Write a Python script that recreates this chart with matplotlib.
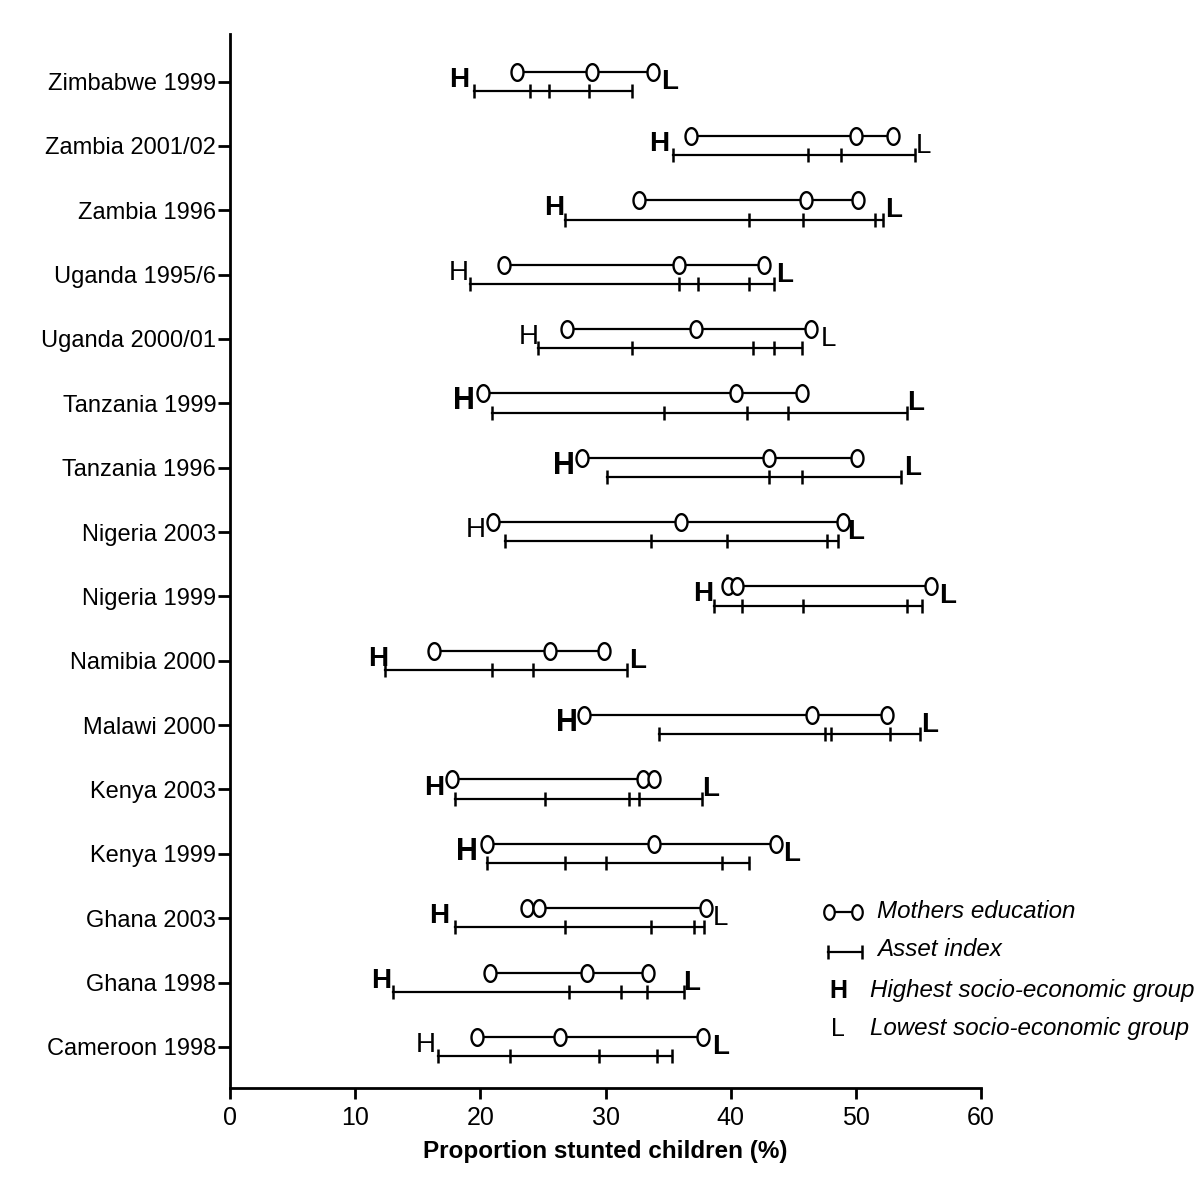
import matplotlib
matplotlib.use("Agg")
import numpy as np
import matplotlib.pyplot as plt
from matplotlib.path import Path

plt.rcParams['font.family'] = ['Liberation Sans', 'DejaVu Sans']

# Surveys, listed top to bottom as in the figure
surveys = ["Zimbabwe 1999", "Zambia 2001/02", "Zambia 1996", "Uganda 1995/6",
           "Uganda 2000/01", "Tanzania 1999", "Tanzania 1996", "Nigeria 2003",
           "Nigeria 1999", "Namibia 2000", "Malawi 2000", "Kenya 2003",
           "Kenya 1999", "Ghana 2003", "Ghana 1998", "Cameroon 1998"]

# Stunting (%) by mother's education group
mothers_edu = [
    [22.9, 28.9, 33.8],
    [36.8, 50.0, 53.0],
    [32.7, 46.0, 50.2],
    [21.9, 35.9, 42.7],
    [26.9, 37.2, 46.4],
    [20.2, 40.4, 45.7],
    [28.1, 43.1, 50.1],
    [21.0, 36.0, 49.0],
    [39.8, 40.5, 56.0],
    [16.3, 25.6, 29.9],
    [28.3, 46.5, 52.5],
    [17.7, 33.0, 33.9],
    [20.5, 33.9, 43.6],
    [23.7, 24.7, 38.0],
    [20.8, 28.5, 33.4],
    [19.7, 26.4, 37.8],
]

# Stunting (%) by asset index quintile
asset_index = [
    [19.5, 24.0, 25.5, 28.7, 32.1],
    [35.4, 46.2, 48.8, 54.7],
    [26.8, 41.5, 45.8, 51.5, 52.2],
    [19.2, 35.9, 37.4, 41.5, 43.5],
    [24.6, 32.1, 41.8, 43.5, 45.7],
    [20.9, 34.7, 41.3, 44.6, 54.1],
    [30.1, 43.1, 45.7, 53.6],
    [22.0, 33.6, 39.7, 47.7, 48.6],
    [38.7, 40.9, 45.8, 54.1, 55.3],
    [12.4, 20.9, 24.2, 31.7],
    [34.3, 47.5, 48.0, 52.7, 55.1],
    [18.0, 25.2, 31.9, 32.7, 37.7],
    [20.5, 26.8, 30.0, 39.3, 41.5],
    [18.0, 26.8, 33.6, 37.1, 37.9],
    [13.0, 27.1, 31.2, 33.3, 36.3],
    [16.6, 22.4, 29.5, 34.1, 35.3],
]

# where the H / L letters sit on the x axis, and whether they are bold
h_x = [18.3, 34.3, 25.9, 18.3, 23.9, 18.7, 26.7, 19.6, 37.8, 11.8, 26.9, 16.3, 18.9, 16.7, 12.1, 15.6]
l_x = [35.1, 55.4, 53.0, 44.3, 47.8, 54.8, 54.5, 50.0, 57.3, 32.6, 55.9, 38.4, 44.9, 39.2, 36.9, 39.2]
h_bold = [1, 1, 1, 0, 0, 1, 1, 0, 1, 1, 1, 1, 1, 1, 1, 0]
l_bold = [1, 0, 1, 1, 0, 1, 1, 1, 1, 1, 1, 1, 1, 0, 1, 1]
h_big = [0, 0, 0, 0, 0, 1, 1, 0, 0, 0, 1, 0, 1, 0, 0, 0]

# slightly tall open "circle" like the original figure
t = np.linspace(0, 2 * np.pi, 60)
oval = Path(np.column_stack([0.72 * np.cos(t), np.sin(t)]), closed=True)

fig = plt.figure(figsize=(12, 12), dpi=100)
ax = fig.add_axes([0.1917, 0.0933, 0.6258, 0.8784])

n = len(surveys)
for i, name in enumerate(surveys):
    y = n - 1 - i
    me = mothers_edu[i]
    ai = asset_index[i]
    # mothers education: line with open circles
    ax.plot(me, [y + 0.155] * len(me), color='black', lw=1.6, marker=oval,
            ms=12, mfc='white', mec='black', mew=1.7, zorder=3)
    # asset index: line with vertical ticks
    ax.plot([min(ai), max(ai)], [y - 0.145] * 2, color='black', lw=1.6, zorder=2)
    ax.plot(ai, [y - 0.145] * len(ai), ls='none', marker='|', ms=10, mew=1.8,
            color='black', zorder=2)
    ax.text(h_x[i], y + 0.03, "H", ha='center', va='center',
            fontsize=22 if h_big[i] else 20,
            fontweight='bold' if h_bold[i] else 'normal')
    ax.text(l_x[i], y, "L", ha='center', va='center', fontsize=20,
            fontweight='bold' if l_bold[i] else 'normal')

ax.set_xlim(0, 60)
ax.set_ylim(-0.64, n - 1 + 0.74)
ax.set_xticks(range(0, 61, 10))
ax.set_yticks(range(n))
ax.set_yticklabels(surveys[::-1])
ax.tick_params(axis='x', direction='out', length=8, width=2, labelsize=18, pad=5)
ax.tick_params(axis='y', direction='out', length=9, width=2, labelsize=17, pad=1)
for s in ['top', 'right']:
    ax.spines[s].set_visible(False)
for s in ['left', 'bottom']:
    ax.spines[s].set_linewidth(2)
ax.set_xlabel("Proportion stunted children (%)", fontsize=17.5, fontweight='bold', labelpad=7)

# legend drawn in figure pixel coordinates
lax = fig.add_axes([0, 0, 1, 1])
lax.set_xlim(0, 1200)
lax.set_ylim(1200, 0)
lax.axis('off')
lax.plot([829, 857], [912, 912], color='black', lw=1.6, marker=oval, ms=10.5,
         mfc='white', mec='black', mew=1.6)
lax.plot([828, 862], [952, 952], color='black', lw=1.6)
lax.plot([828, 862], [952, 952], ls='none', marker='|', ms=10, mew=1.8, color='black')
lax.text(838, 991, "H", ha='center', va='center', fontsize=18, fontweight='bold')
lax.text(838, 1029, "L", ha='center', va='center', fontsize=18)
legend_labels = ["Mothers education", "Asset index",
                 "Highest socio-economic group", "Lowest socio-economic group"]
legend_y = [912, 950, 991, 1029]
for k, lab in enumerate(legend_labels):
    lax.text(877 if k < 2 else 870, legend_y[k], lab,
             ha='left', va='center', fontsize=17.4, style='italic')

fig.savefig("out.png", dpi=100)
